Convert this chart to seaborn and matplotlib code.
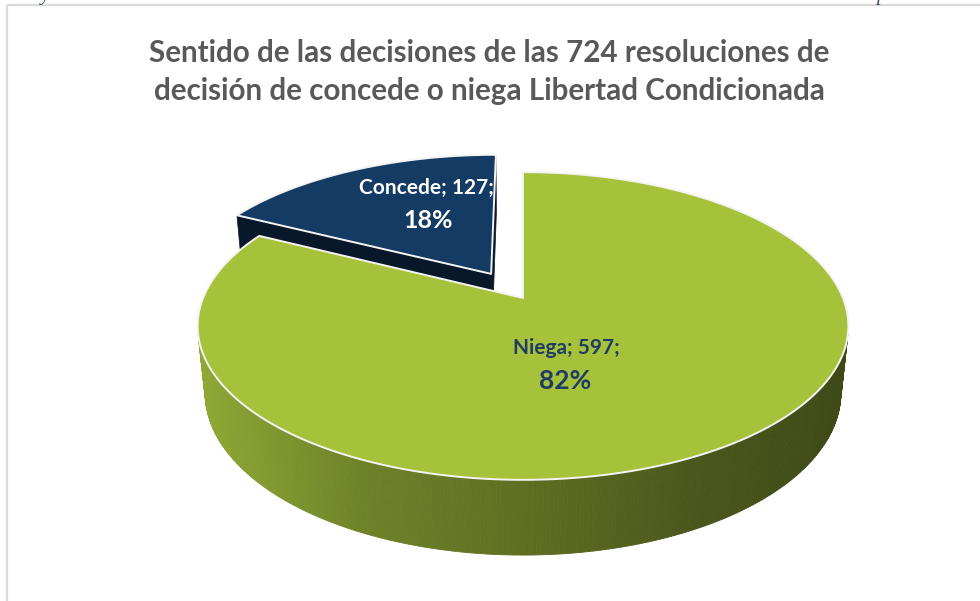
import numpy as np
import matplotlib
matplotlib.use("Agg")
import matplotlib.pyplot as plt
import seaborn as sns
from matplotlib.patches import Polygon, Rectangle
from matplotlib.collections import PolyCollection

# data
categories = ["Niega", "Concede"]
counts = [597, 127]
explode = [0.0, 0.196]
title = ("Sentido de las decisiones de las 724 resoluciones de\n"
         "decisión de concede o niega Libertad Condicionada")

top_colors = ["#A6C13A", "#143B63"]
radial_colors = ["#3E4916", "#08182A"]
side_stops = ["#8FA835", "#6E8228", "#5F6E22", "#4A581C", "#3E4916"]
label_colors = ["#1F3C66", "white"]

sns.set_theme(style="white")
plt.rcParams["font.family"] = ["Lato", "DejaVu Sans"]

W, H = 980, 601
# fake 3d camera (Excel-like perspective pie)
CX, CY = 523, 298
FOC = 1558.0
DIST = 4.87
PHI = np.arcsin(0.465)
DEPTH = 0.238
cphi, sphi = np.cos(PHI), np.sin(PHI)
cam = np.array([0.0, -DIST * cphi, DIST * sphi])


def project(X, Y, Z):
    X, Y, Z = np.asarray(X, float), np.asarray(Y, float), np.asarray(Z, float)
    vy = Y + DIST * cphi
    vz = Z - DIST * sphi
    d = vy * cphi - vz * sphi
    u = vy * sphi + vz * cphi
    return CX + FOC * X / d, CY - FOC * u / d


side_cmap = sns.blend_palette(side_stops, n_colors=256, as_cmap=True)

fig = plt.figure(figsize=(W / 100, H / 100), dpi=100)
ax = fig.add_axes([0, 0, 1, 1])
ax.set_xlim(0, W)
ax.set_ylim(H, 0)
ax.axis("off")

# chart frame
ax.add_patch(Rectangle((7, 5), 1100, 700, fill=False, edgecolor="#D9D9D9", lw=1.6))

total = sum(counts)
fracs = np.array(counts) / total
cum = np.concatenate([[0], np.cumsum(fracs)])

wedges = []
for i in range(len(counts)):
    a1 = 90 - cum[i] * 360
    a2 = 90 - cum[i + 1] * 360
    mid = np.deg2rad((a1 + a2) / 2)
    ox, oy = explode[i] * np.cos(mid), explode[i] * np.sin(mid)
    wedges.append((i, a1, a2, ox, oy))

# back wedges first
wedges.sort(key=lambda w: -w[4])

top_patches = {}
for i, a1, a2, ox, oy in wedges:
    t = np.deg2rad(np.linspace(a1, a2, 600))
    rx, ry = ox + np.cos(t), oy + np.sin(t)

    # radial walls
    for a, sgn in ((a1, 1), (a2, -1)):
        ar = np.deg2rad(a)
        n = sgn * np.array([-np.sin(ar), np.cos(ar), 0.0])
        if np.dot(cam - np.array([ox, oy, 0.0]), n) > 1e-6:
            xs = [ox, ox + np.cos(ar), ox + np.cos(ar), ox]
            ys = [oy, oy + np.sin(ar), oy + np.sin(ar), oy]
            zs = [0, 0, -DEPTH, -DEPTH]
            px, py = project(xs, ys, zs)
            ax.add_patch(Polygon(np.column_stack([px, py]), closed=True,
                                 facecolor=radial_colors[i], edgecolor=radial_colors[i], lw=0.5))

    # outer wall strips
    vis = -(ox * np.cos(t) + oy * np.sin(t)) - 1 - DIST * cphi * np.sin(t) > 0
    polys, cols = [], []
    for k in range(len(t) - 1):
        if not (vis[k] or vis[k + 1]):
            continue
        xs = [rx[k], rx[k + 1], rx[k + 1], rx[k]]
        ys = [ry[k], ry[k + 1], ry[k + 1], ry[k]]
        zs = [0, 0, -DEPTH, -DEPTH]
        px, py = project(xs, ys, zs)
        polys.append(np.column_stack([px, py]))
        cols.append(side_cmap(np.clip((px.mean() - 200) / 650, 0, 1)))
    if polys:
        ax.add_collection(PolyCollection(polys, facecolors=cols, edgecolors=cols, linewidths=0.6))

    # top face
    px, py = project(np.concatenate([[ox], rx]), np.concatenate([[oy], ry]), np.zeros(len(rx) + 1))
    top = Polygon(np.column_stack([px, py]), closed=True, facecolor=top_colors[i],
                  edgecolor="#F4F4F4", lw=1.4, joinstyle="round")
    ax.add_patch(top)
    top_patches[i] = top

# labels
pcts = [round(f * 100) for f in fracs]
label_pos = {0: ((566, 348), (565, 381)), 1: ((426, 188), (428, 220))}
label_sizes = {0: (15, 19), 1: (15, 18)}
for i, cat in enumerate(categories):
    (x1, y1), (x2, y2) = label_pos[i]
    s1, s2 = label_sizes[i]
    t1 = ax.text(x1, y1, f"{cat}; {counts[i]};", ha="center", va="center",
                 fontsize=s1, fontweight="bold", color=label_colors[i])
    t1.set_clip_path(top_patches[i])
    ax.text(x2, y2, f"{pcts[i]}%", ha="center", va="center",
            fontsize=s2, fontweight="bold", color=label_colors[i])

ax.text(489, 72, title, ha="center", va="center", fontsize=21.3, fontweight="bold",
        color="#595959", linespacing=1.45)

# cut-off text from the page above the chart
ax.text(41, 0, "y", fontsize=15, style="italic", family="Liberation Serif",
        color="#44546A", va="baseline", ha="left", clip_on=False)
ax.text(876, 0, "p", fontsize=15, style="italic", family="Liberation Serif",
        color="#44546A", va="baseline", ha="left", clip_on=False)

fig.savefig("out.png", dpi=100)
